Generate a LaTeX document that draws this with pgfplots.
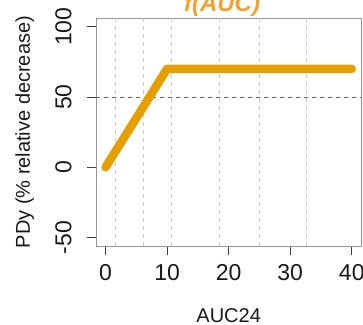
\documentclass[border=0pt]{standalone}
\usepackage{fontspec}
\setmainfont{Liberation Sans}
\usepackage{pgfplots}
\pgfplotsset{compat=1.18}

\definecolor{curve}{RGB}{230,159,0}
\definecolor{titleorange}{RGB}{245,160,45}
\definecolor{boxgray}{RGB}{150,150,150}
\definecolor{gridgray}{RGB}{200,200,200}
\definecolor{refgray}{RGB}{100,100,100}

\begin{document}
\begin{tikzpicture}
\useasboundingbox (0,0) rectangle (363pt,324pt);
\begin{axis}[
  at={(96.3pt,78pt)}, anchor=south west,
  scale only axis, width=264.7pt, height=227.7pt,
  xmin=-1.5, xmax=41.5, ymin=-56, ymax=106,
  xtick={0,10,20,30,40}, ytick={-50,0,50,100},
  axis line style={boxgray, line width=1pt},
  tick align=outside, major tick length=9pt,
  tick style={black!75, line width=0.9pt},
  xtick pos=bottom, ytick pos=left,
  /pgf/number format/assume math mode=true,
  ticklabel style={font=\fontsize{23}{23}\selectfont, text=black!90},
  xticklabel style={anchor=north, yshift=-6pt},
  yticklabel style={rotate=90, anchor=base, yshift=16pt},
  title={\bfseries\itshape f(AUC)},
  every axis title/.style={at={(axis description cs:0.475,1.028)}, anchor=base,
    font=\fontsize{24}{24}\selectfont, text=titleorange},
  xlabel={AUC24},
  ylabel={PDy (\% relative decrease)},
  every axis x label/.style={at={(axis description cs:0.5,-0.334)}, anchor=base,
    font=\fontsize{20}{20}\selectfont, text=black!90},
  every axis y label/.style={at={(axis description cs:-0.2505,0.5)}, rotate=90, anchor=base,
    font=\fontsize{20}{20}\selectfont, text=black!90},
  clip=false,
]
% vertical reference lines
\foreach \v in {1.54,6.14,10.64,18.49,24.94,32.57} {
  \edef\temp{\noexpand\addplot[gridgray, line width=0.8pt, dash pattern=on 4pt off 4pt, forget plot]
    coordinates {(\v,-56) (\v,106)};}
  \temp
}
% 50% threshold
\addplot[refgray, line width=0.8pt, dash pattern=on 4pt off 4pt] coordinates {(-1.5,50) (41.5,50)};
% response curve
\addplot[curve, line width=8.5pt, line cap=round, line join=round] coordinates {(0,0) (10,70) (40,70)};
\end{axis}
\end{tikzpicture}
\end{document}
